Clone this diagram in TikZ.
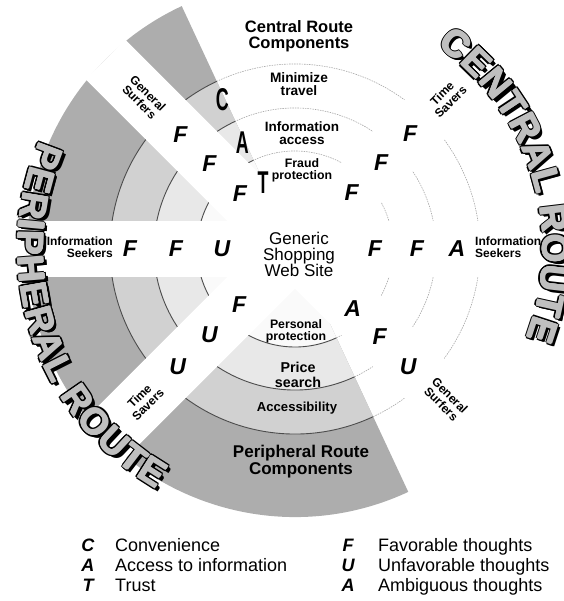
\documentclass[tikz,border=0pt]{standalone}
\usepackage{fontspec}
\setmainfont{Liberation Sans}
\usetikzlibrary{decorations.text}

\begin{document}
\begin{tikzpicture}[
    x=1pt, y=1pt,
    comp/.style={align=center, inner sep=0pt, font=\bfseries\fontsize{#1}{#1}\selectfont},
    hub/.style={align=center, inner sep=0pt, font=\fontsize{17}{16}\selectfont},
    segment/.style={align=center, inner sep=0pt, font=\bfseries\fontsize{12}{12}\selectfont},
    thought/.style={inner sep=0pt, font=\bfseries\itshape\fontsize{23}{23}\selectfont},
    motive/.style={inner sep=0pt, font=\bfseries\fontsize{21}{21}\selectfont},
    legkey/.style={inner sep=0pt, font=\bfseries\itshape\fontsize{18}{18}\selectfont},
    legtext/.style={anchor=base west, inner sep=0pt, font=\fontsize{18}{18}\selectfont},
    solidring/.style={black!70, line width=0.9pt},
    faintring/.style={black!35, line width=0.6pt, dash pattern=on 1.5pt off 1pt},
    strip/.style={fill=white},
    routeword/.style 2 args={decorate, decoration={text along path, text align={fit to path},
        text={|\bfseries\fontsize{37}{37}\selectfont\color{#1}|#2}}}
]
    % Ring radii
    \def\ra{98}
    \def\rb{141}
    \def\rc{185}
    \def\rd{268}

    \useasboundingbox (-295,-352) rectangle (268,249);

    % Peripheral half (shaded outward)
    \fill[black!32] (0,0) -- (115:\rd) arc[start angle=115, end angle=295, radius=\rd] -- cycle;
    \fill[black!18] (0,0) -- (115:\rc) arc[start angle=115, end angle=295, radius=\rc] -- cycle;
    \fill[black!9] (0,0) -- (115:\rb) arc[start angle=115, end angle=295, radius=\rb] -- cycle;
    \fill[black!2] (0,0) -- (115:\ra) arc[start angle=115, end angle=295, radius=\ra] -- cycle;

    % Ring lines
    \draw[solidring] (115:\ra) arc[start angle=115, end angle=295, radius=\ra];
    \draw[solidring] (115:\rb) arc[start angle=115, end angle=295, radius=\rb];
    \draw[solidring] (115:\rc) arc[start angle=115, end angle=295, radius=\rc];
    \draw[faintring] (-65:\ra) arc[start angle=-65, end angle=115, radius=\ra];
    \draw[faintring] (-65:\rb) arc[start angle=-65, end angle=115, radius=\rb];
    \draw[faintring] (-65:\rc) arc[start angle=-65, end angle=115, radius=\rc];

    % Segment strips
    \fill[strip] (-\rd,-28) rectangle (\rd,28);
    \fill[strip, rotate=45] (-\rd,-28) rectangle (\rd,28);
    \fill[strip, rotate=-45] (-\rd,-28) rectangle (\rd,28);

    % Central route components
    \node[comp=16.5] (cencomp) at (4,213) {Central Route\\Components};
    \node[comp=13.7] (minimize) at (4,165) {Minimize\\travel};
    \node[comp=13.5] (infoaccess) at (7,116) {Information\\access};
    \node[comp=12.3] (fraud) at (7,79) {Fraud\\protection};

    % Hub
    \node[hub] (site) at (4,-5) {Generic\\Shopping\\Web Site};

    % Peripheral route components
    \node[comp=12.3] (personal) at (1,-82) {Personal\\protection};
    \node[comp=14.3] (price) at (3,-126) {Price\\search};
    \node[comp=13.1] (access) at (2,-159) {Accessibility};
    \node[comp=17] (pericomp) at (6,-213) {Peripheral Route\\Components};

    % Segment labels
    \node[segment, anchor=east, align=right] (seekW) at (-182,2) {Information\\Seekers};
    \node[segment, anchor=west, align=left] (seekE) at (180,2) {Information\\Seekers};
    \node[segment, rotate=-45] (surfNW) at (135:214) {General\\Surfers};
    \node[segment, rotate=-45] (surfSE) at (-45:213) {General\\Surfers};
    \node[segment, rotate=45] (saveNE) at (45:214) {Time\\Savers};
    \node[segment, rotate=45] (saveSW) at (225:214) {Time\\Savers};

    % Thoughts: information seekers
    \node[thought] (seekW1) at (180:165) {F};
    \node[thought] (seekW2) at (180:119) {F};
    \node[thought] (seekW3) at (180:73) {U};
    \node[thought] (seekE1) at (0:80) {F};
    \node[thought] (seekE2) at (0:122) {F};
    \node[thought] (seekE3) at (0:162) {A};

    % Thoughts: general surfers
    \node[thought] (surfNW1) at (135:162) {F};
    \node[thought] (surfNW2) at (135:121) {F};
    \node[thought] (surfNW3) at (135:78) {F};
    \node[thought] (surfSE1) at (-46:83) {A};
    \node[thought] (surfSE2) at (-46:122) {F};
    \node[thought] (surfSE3) at (-46:163) {U};

    % Thoughts: time savers
    \node[thought] (saveNE1) at (45:163) {F};
    \node[thought] (saveNE2) at (45:122) {F};
    \node[thought] (saveNE3) at (45:80) {F};
    \node[thought] (saveSW1) at (225:79) {F};
    \node[thought] (saveSW2) at (225:121) {U};
    \node[thought] (saveSW3) at (225:166) {U};

    % Motives on the boundary
    \node[motive] (conv) at (116:166) {\scalebox{0.85}[1.5]{C}};
    \node[motive] (acc) at (116.3:119) {\scalebox{0.85}[1.5]{A}};
    \node[motive] (trust) at (115.5:74) {\scalebox{0.85}[1.5]{T}};

    % Route titles: dark outline and shadow
    \foreach \dx/\dy in {-2/0, 2/0, 0/-2, 0/2, -1.4/-1.4, 1.4/1.4, -1.4/1.4, 1.4/-1.4, 2.5/-2.5, 3.3/-3.3} {
        \path[routeword={black}{CENTRAL ROUTE}, shift={(\dx,\dy)}] (55:248) arc[start angle=55, end angle=-21, radius=248];
        \path[routeword={black}{PERIPHERAL ROUTE}, shift={(\dx,\dy)}] (157:277) arc[start angle=157, end angle=240, radius=277];
    }
    % Route titles: grey face
    \foreach \dx/\dy in {0/0, 0.6/0, -0.6/0, 0/0.6, 0/-0.6} {
        \path[routeword={black!25}{CENTRAL ROUTE}, shift={(\dx,\dy)}] (55:248) arc[start angle=55, end angle=-21, radius=248];
        \path[routeword={black!25}{PERIPHERAL ROUTE}, shift={(\dx,\dy)}] (157:277) arc[start angle=157, end angle=240, radius=277];
    }

    % Legend
    \node[legkey] (keyC) at (-207,-296) {C};
    \node[legkey] (keyA) at (-207,-316) {A};
    \node[legkey] (keyT) at (-207,-336) {T};
    \node[legtext] (txtC) at (-180,-302.5) {Convenience};
    \node[legtext] (txtA) at (-180,-322.5) {Access to information};
    \node[legtext] (txtT) at (-180,-342.5) {Trust};
    \node[legkey] (keyF) at (53,-296) {F};
    \node[legkey] (keyU) at (53,-316) {U};
    \node[legkey] (keyAm) at (53,-336) {A};
    \node[legtext] (txtF) at (83,-302.5) {Favorable thoughts};
    \node[legtext] (txtU) at (83,-322.5) {Unfavorable thoughts};
    \node[legtext] (txtAm) at (83,-342.5) {Ambiguous thoughts};

\end{tikzpicture}
\end{document}
